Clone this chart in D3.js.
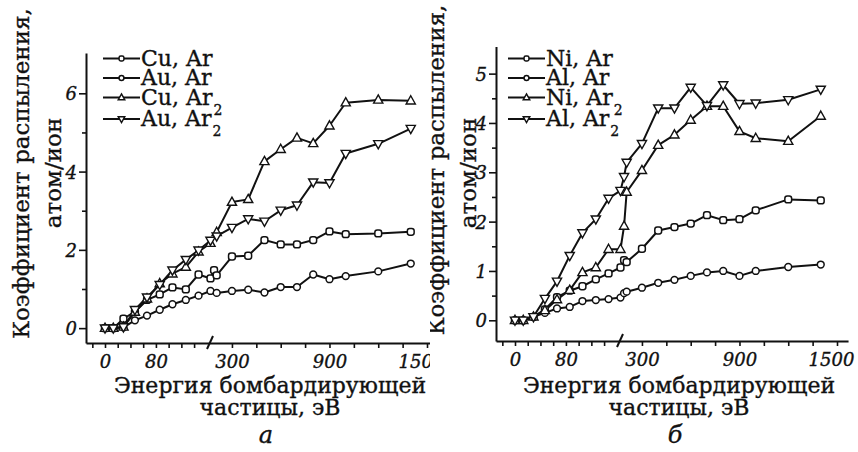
<!DOCTYPE html>
<html><head><meta charset="utf-8">
<script src="https://cdnjs.cloudflare.com/ajax/libs/d3/7.8.5/d3.min.js"></script>
<style>
html,body{margin:0;padding:0;background:#fff;}
svg{display:block;}
text{font-family:"DejaVu Serif",serif;fill:#111;}
text.heavy{stroke:#111;stroke-width:0.35px;}
</style></head>
<body>
<script>
// ---------- DATA ----------
const energies = [0, 13, 29, 47, 66, 86, 106, 127, 147, 168, 190, 206, 300, 400, 500, 600, 700, 800, 900, 1000, 1200, 1400];

// panel а
const cuAr  = [0, 0, 0.24, 0.42, 0.72, 0.86, 1.04, 0.99, 1.37, 1.27, 1.48, 1.35, 1.83, 1.85, 2.25, 2.14, 2.14, 2.25, 2.47, 2.40, 2.42, 2.46];
const auAr  = [0, 0, 0.02, 0.20, 0.32, 0.47, 0.61, 0.72, 0.83, 0.95, null, 0.90, 0.95, 0.98, 0.91, 1.05, 1.05, 1.37, 1.25, 1.33, 1.45, 1.65];
const cuAr2 = [0, 0, 0.03, 0.41, 0.75, 1.14, 1.39, 1.56, 1.95, 2.17, null, 2.45, 3.22, 3.29, 4.26, 4.57, 4.86, 4.72, 5.17, 5.76, 5.83, 5.81];
const auAr2 = [0, 0, 0.03, 0.47, 0.79, 1.11, 1.48, 1.75, 1.99, 2.24, null, 2.35, 2.57, 2.79, 2.73, 3.01, 3.14, 3.73, 3.71, 4.46, 4.71, 5.10];

// panel б
const niAr  = [0, 0, 0.07, 0.22, 0.47, 0.60, 0.69, 0.83, 0.95, 1.07, 1.22, 1.18, 1.45, 1.82, 1.89, 1.96, 2.13, 2.03, 2.05, 2.23, 2.45, 2.43];
const alAr  = [0, 0, 0.07, 0.15, 0.24, 0.27, 0.39, 0.41, 0.43, 0.46, 0.55, 0.58, 0.66, 0.76, 0.82, 0.90, 0.97, 1.00, 0.90, 1.00, 1.08, 1.13];
const niAr2 = [0, 0, 0.07, 0.20, 0.42, 0.61, 0.97, 1.07, 1.44, 1.44, 1.91, 2.60, 3.04, 3.55, 3.76, 4.06, 4.34, 4.34, 3.83, 3.69, 3.63, 4.14];
const alAr2 = [0, 0, 0.07, 0.44, 0.79, 1.31, 1.77, 2.05, 2.47, 2.63, 2.91, 3.20, 3.58, 4.30, 4.30, 4.72, 4.35, 4.77, 4.39, 4.40, 4.47, 4.68];

const xTickMinor = [-20, 0, 20, 40, 60, 80, 100, 120, 140, 300, 450, 600, 750, 900, 1050, 1200, 1350, 1500];
const xTickLabels = [0, 80, 300, 900, 1500];
const xBreak = 165;

const legendA = ["Cu, Ar", "Au, Ar", "Cu, Ar", "Au, Ar"];
const legendB = ["Ni, Ar", "Al, Ar", "Ni, Ar", "Al, Ar"];
const legendSub = ["", "", "2", "2"];
const markerKinds = ["sq", "circle", "up", "down"];

const yLabel1 = "Коэффициент распыления,";
const yLabel2 = "атом/ион";
const xLabel1 = "Энергия бомбардирующей";
const xLabel2 = "частицы, эВ";

// ---------- DRAW ----------
const W = 858, H = 452;
const svg = d3.select("body").append("svg").attr("width", W).attr("height", H);
const defs = svg.append("defs");
defs.append("clipPath").attr("id","clipA").append("rect").attr("x",0).attr("y",0).attr("width",430).attr("height",H);
defs.append("clipPath").attr("id","clipB").append("rect").attr("x",430).attr("y",0).attr("width",W-430).attr("height",H);

function marker(g, kind, x, y, s) {
  if (kind === "circle") {
    g.append("circle").attr("cx", x).attr("cy", y).attr("r", 3.4*s)
      .attr("fill","#fff").attr("stroke","#111").attr("stroke-width",1.5);
  } else if (kind === "sq") {
    g.append("rect").attr("x", x-3.4*s).attr("y", y-3.4*s).attr("width",6.8*s).attr("height",6.8*s)
      .attr("rx",2.4*s).attr("fill","#fff").attr("stroke","#111").attr("stroke-width",1.5);
  } else {
    const d = kind === "up" ? 1 : -1;
    const pts = [[0,-5*d],[4.6,3.2*d],[-4.6,3.2*d]].map(p=>[x+p[0]*s, y+p[1]*s]);
    g.append("path").attr("d", "M"+pts.join("L")+"Z")
      .attr("fill","#fff").attr("stroke","#111").attr("stroke-width",1.4).attr("stroke-linejoin","miter");
  }
}

function panel(opt) {
  const g = svg.append("g").attr("clip-path", `url(#${opt.clip})`);
  const dx = opt.dx;
  const x = d3.scaleLinear().domain([-30, 0, xBreak, opt.xEnd]).range([86+dx, 105+dx, 210+dx, 210+dx+(opt.xEnd-xBreak)*0.16255]);
  const y = d3.scaleLinear().domain(opt.yDom).range(opt.yRange);
  const axisY = opt.yRange[0];
  const axisX = 86+dx;

  // y axis
  const gy = g.append("g").attr("transform", `translate(${axisX},0)`);
  gy.call(d3.axisLeft(y).tickValues(opt.yMajor).tickSize(7).tickSizeOuter(0).tickPadding(2).tickFormat(d3.format("d")));
  gy.append("g").call(d3.axisLeft(y).tickValues(opt.yMinor).tickSize(4).tickSizeOuter(0).tickFormat(""));
  gy.selectAll("path.domain").filter((d,i)=>i>0).remove();
  // x axis
  const gx = g.append("g").attr("transform", `translate(0,${axisY})`);
  gx.call(d3.axisBottom(x).tickValues(xTickMinor).tickSize(5).tickSizeOuter(0).tickPadding(7)
    .tickFormat(d => xTickLabels.includes(d) ? String(d) : ""));
  g.selectAll(".domain").attr("stroke","#111").attr("stroke-width",2);
  g.selectAll(".tick line").attr("stroke","#111").attr("stroke-width",1.6);
  g.selectAll(".tick text").attr("font-family","'DejaVu Serif',serif").attr("font-style","italic")
    .attr("font-size",18).attr("fill","#111").attr("class","heavy");
  gy.selectAll(".tick text").attr("dy","0.36em");
  // last x label sits slightly left of its tick, as in the original
  gx.selectAll(".tick text").filter(d => d === 1500).attr("dx", -6);
  // axis break slash
  const bx = x(xBreak);
  g.append("line").attr("x1", bx-3).attr("y1", axisY+6).attr("x2", bx+3).attr("y2", axisY-7)
    .attr("stroke","#111").attr("stroke-width",2);

  // series
  const line = d3.line().x(d=>x(d[0])).y(d=>y(d[1]));
  opt.series.forEach((vals, si) => {
    const pts = energies.map((e,i)=>[e, vals[i]]).filter(p=>p[1] !== null);
    g.append("path").datum(pts).attr("d", line).attr("fill","none")
      .attr("stroke","#111").attr("stroke-width",2).attr("stroke-linejoin","round");
  });
  opt.series.forEach((vals, si) => {
    const mg = g.append("g");
    energies.forEach((e,i)=>{ if (vals[i] !== null) marker(mg, markerKinds[si], x(e), y(vals[i]), 1); });
  });

  // legend
  const lg = g.append("g");
  const rows = [58.5, 78, 97.5, 119];
  opt.legend.forEach((t, i) => {
    const ly = rows[i];
    lg.append("line").attr("x1", opt.legX).attr("x2", opt.legX+37).attr("y1", ly).attr("y2", ly)
      .attr("stroke","#111").attr("stroke-width",2);
    marker(lg, markerKinds[i], opt.legX+18.5, ly, 0.72);
    const tx = lg.append("text").attr("class","heavy").attr("x", opt.legX+38).attr("y", ly+7).attr("font-size",22).text(t);
    if (legendSub[i]) tx.append("tspan").attr("font-size",14).attr("dy",10).attr("dx",1).text(legendSub[i]);
  });

  // y title
  g.append("text").attr("class","heavy").attr("transform", `translate(${opt.yT1x},${opt.yTc}) rotate(-90)`)
    .attr("text-anchor","middle").attr("font-size",23).text(yLabel1);
  g.append("text").attr("class","heavy").attr("transform", `translate(${opt.yT2x},173) rotate(-90)`)
    .attr("text-anchor","middle").attr("font-size",23).text(yLabel2);
  // x title
  g.append("text").attr("class","heavy").attr("x", opt.xTc).attr("y", opt.xT1y).attr("text-anchor","middle").attr("font-size",22).text(xLabel1);
  g.append("text").attr("class","heavy").attr("x", opt.xTc).attr("y", opt.xT1y+22.5).attr("text-anchor","middle").attr("font-size",22).text(xLabel2);
  g.append("text").attr("class","heavy").attr("x", opt.xTc-4).attr("y", 443).attr("text-anchor","middle").attr("font-size",24)
    .attr("font-style","italic").text(opt.tag);
}

panel({clip:"clipA", dx:0, xEnd:1600, yDom:[-0.38, 7.03], yRange:[343, 53],
  yMajor:[0,2,4,6], yMinor:[1,3,5],
  series:[cuAr, auAr, cuAr2, auAr2], legend:legendA, legX:103,
  yT1x:29, yTc:173.5, yT2x:61, xTc:270, xT1y:392.5, tag:"а"});
panel({clip:"clipB", dx:410, xEnd:1568, yDom:[-0.42, 5.55], yRange:[341, 46.5],
  yMajor:[0,1,2,3,4,5], yMinor:[0.5,1.5,2.5,3.5,4.5],
  series:[niAr, alAr, niAr2, alAr2], legend:legendB, legX:508,
  yT1x:444, yTc:170, yT2x:476, xTc:679, xT1y:392.5, tag:"б"});
</script>
</body></html>
